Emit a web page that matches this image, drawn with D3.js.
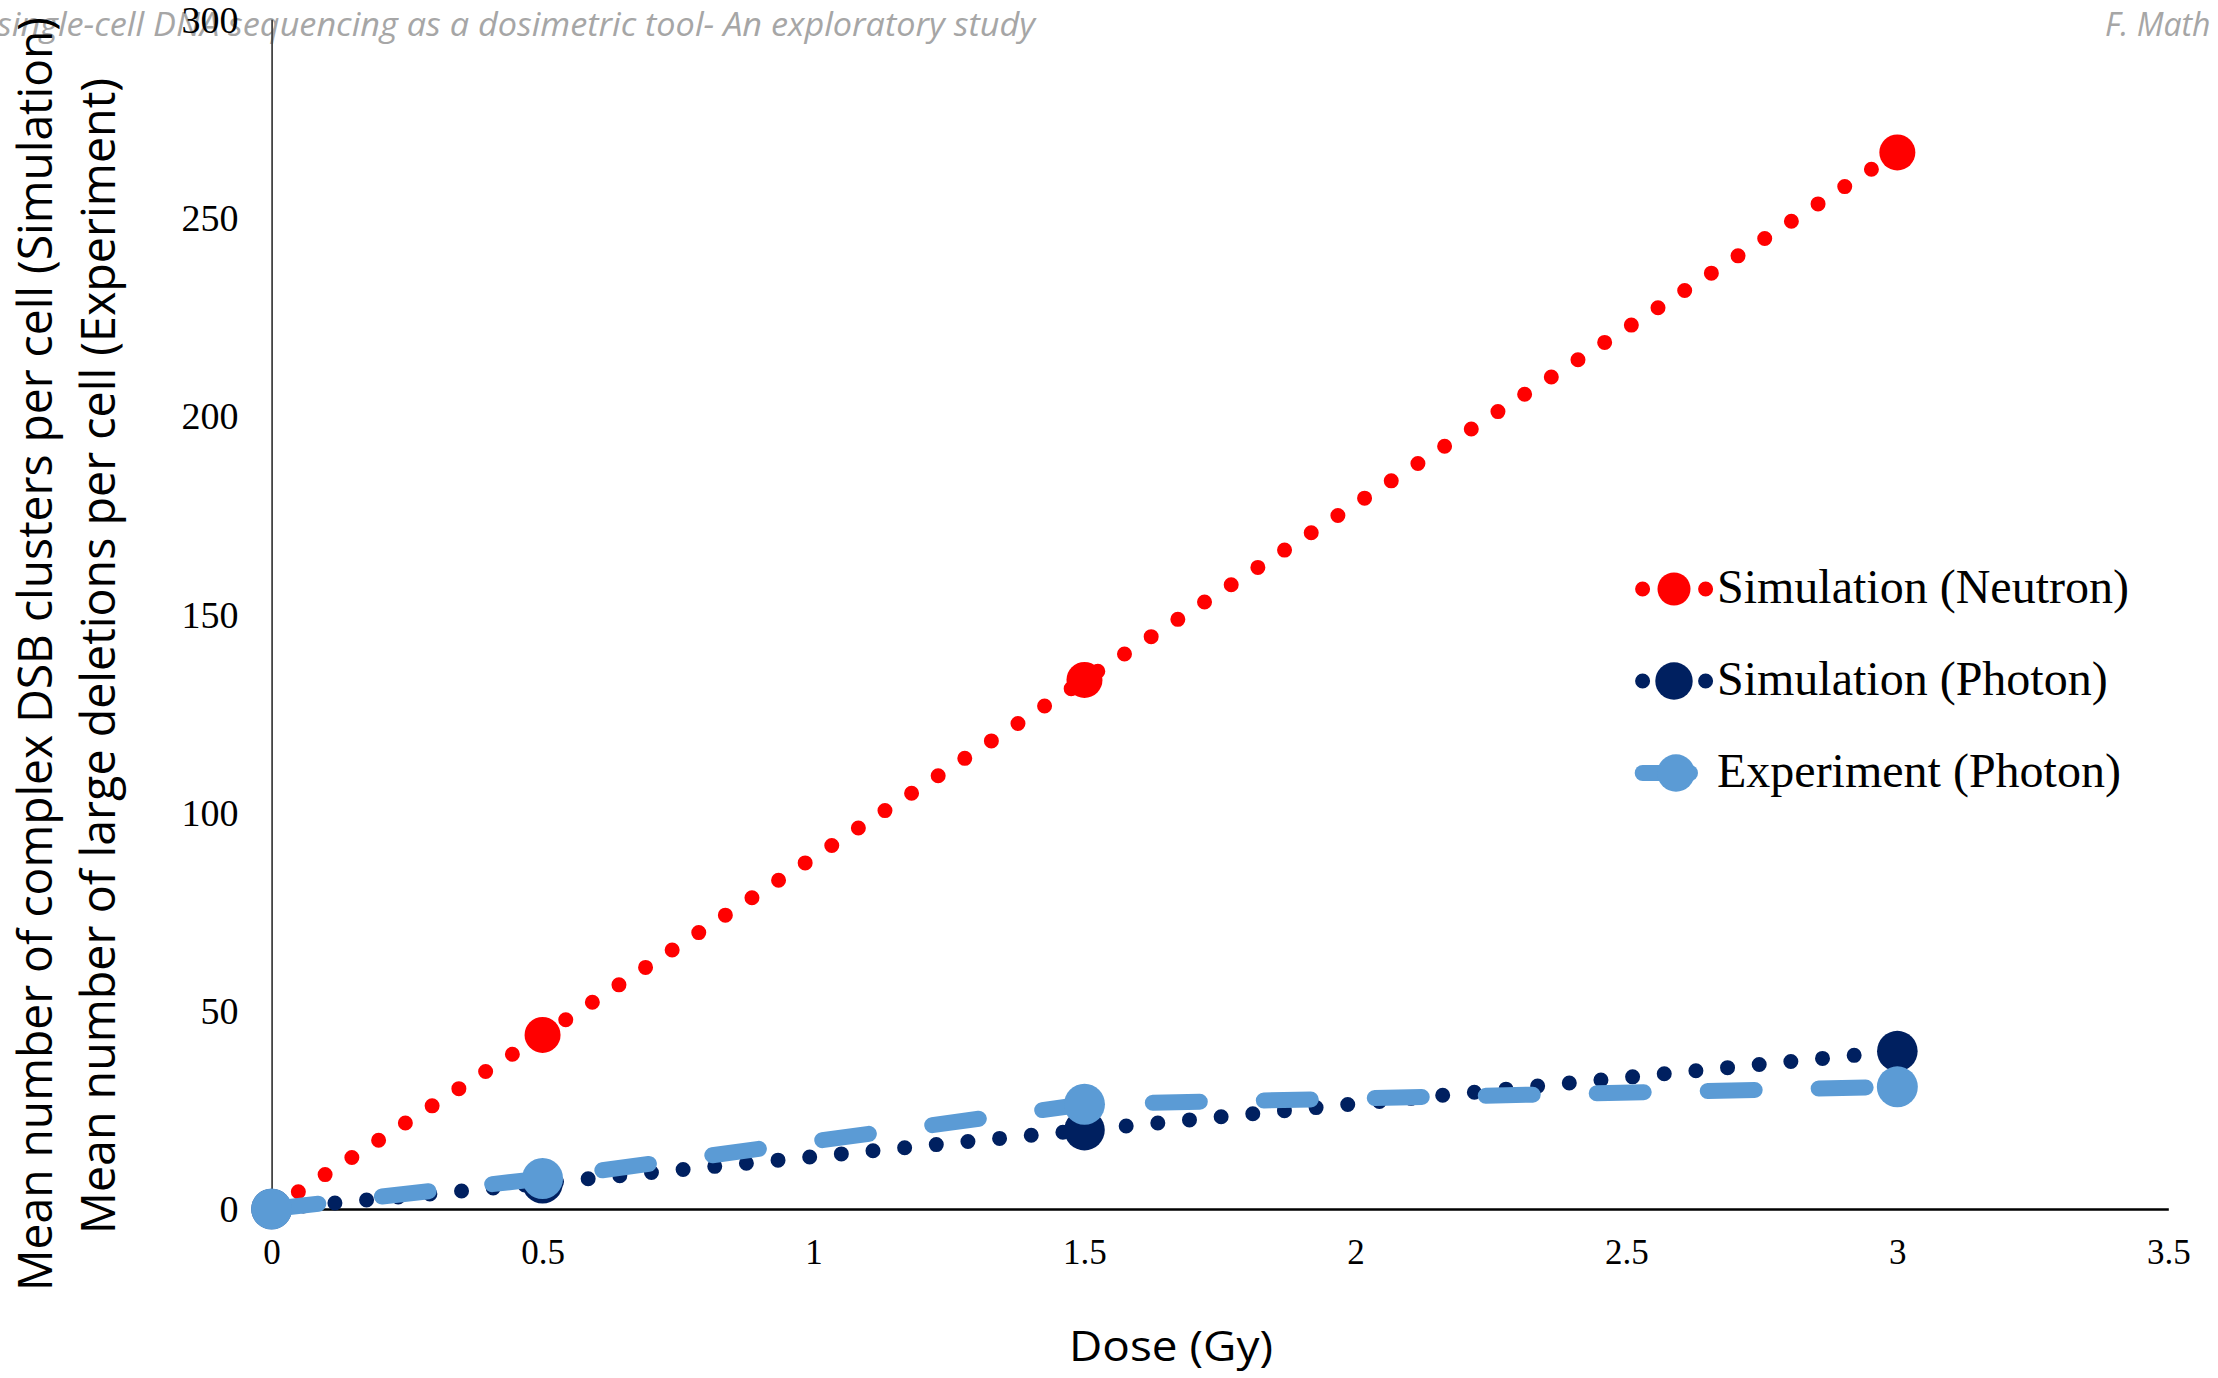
<!DOCTYPE html>
<html>
<head>
<meta charset="utf-8">
<script src="https://cdn.jsdelivr.net/npm/d3@7"></script>
<style>
  html, body { margin: 0; padding: 0; background: #fff; overflow: hidden; }
  svg { display: block; }
</style>
</head>
<body>
<svg id="chart" width="2218" height="1378"></svg>
<script>
// ---- data ----
const doses = [0, 0.5, 1.5, 3];
const neutronSim = [0, 43.9, 133.4, 266.4];
const photonSim = [0, 6.5, 19.9, 39.8];
const photonExp = [0, 7.7, 26.4, 30.8];
const seriesNames = ["Simulation (Neutron)", "Simulation (Photon)", "Experiment (Photon)"];
const xTicks = [0, 0.5, 1, 1.5, 2, 2.5, 3, 3.5];
const yTicks = [0, 50, 100, 150, 200, 250, 300];
const xTitle = "Dose (Gy)";
const yTitle1 = "Mean number of complex DSB clusters per cell (Simulation)";
const yTitle2 = "Mean number of large deletions per cell (Experiment)";
const headerLeft = "single-cell DNA sequencing as a dosimetric tool- An exploratory study";
const headerRight = "F. Math";

// ---- layout ----
const svg = d3.select("#chart");
const x = d3.scaleLinear().domain([0, 3.5]).range([271.6, 2168.3]);
const y = d3.scaleLinear().domain([0, 300]).range([1209, 19.2]);

const serif = "'Liberation Serif', 'Times New Roman', serif";
const sans = "'Open Sans', 'Noto Sans', sans-serif";

// header
svg.append("text").attr("x", -3).attr("y", 36)
  .attr("textLength", 1038).attr("lengthAdjust", "spacingAndGlyphs")
  .style("font-family", sans).style("font-style", "italic").style("font-size", "32px")
  .style("fill", "#a6a6a6").text(headerLeft);
svg.append("text").attr("x", 2105).attr("y", 36)
  .style("font-family", sans).style("font-style", "italic").style("font-size", "32px")
  .style("fill", "#a6a6a6").text(headerRight);

// y axis
const yAxis = svg.append("g").attr("transform", `translate(${x(0)},0)`)
  .call(d3.axisLeft(y).tickValues(yTicks).tickSize(0).tickPadding(33).tickFormat(d3.format("d")));
yAxis.select(".domain").attr("stroke", "#444").attr("stroke-width", 1.8);
yAxis.selectAll("text").style("font-family", serif).style("font-size", "38px").style("fill", "#000")
  .attr("dy", "0.34em");

// x axis
const xAxis = svg.append("g").attr("transform", `translate(0,${y(0)})`)
  .call(d3.axisBottom(x).tickValues(xTicks).tickSize(0).tickPadding(30).tickFormat(d => String(d)));
xAxis.select(".domain").attr("stroke", "#000").attr("stroke-width", 2.6);
xAxis.selectAll("text").style("font-family", serif).style("font-size", "35px").style("fill", "#000");

// axis titles
svg.append("text").attr("transform", "translate(1171,1361)")
  .attr("text-anchor", "middle")
  .attr("textLength", 204).attr("lengthAdjust", "spacingAndGlyphs")
  .style("font-family", sans).style("font-size", "42px").style("fill", "#000").text(xTitle);

svg.append("text").attr("transform", "translate(52,1291) rotate(-90)")
  .attr("textLength", 1274).attr("lengthAdjust", "spacingAndGlyphs")
  .style("font-family", sans).style("font-size", "48px").style("fill", "#000").text(yTitle1);
svg.append("text").attr("transform", "translate(115,1234) rotate(-90)")
  .attr("textLength", 1156).attr("lengthAdjust", "spacingAndGlyphs")
  .style("font-family", sans).style("font-size", "48px").style("fill", "#000").text(yTitle2);

// series
const series = [
  { name: seriesNames[0], values: neutronSim, color: "#ff0000", width: 15, dash: "0 31.8", r: 18, lr: 16.5 },
  { name: seriesNames[1], values: photonSim, color: "#002060", width: 15, dash: "0 31.8", r: 20.3, lr: 18.7 },
  { name: seriesNames[2], values: photonExp, color: "#5b9bd5", width: 16, dash: "47 64", r: 20.5, lr: 18.7 }
];

const line = d3.line().x(d => x(d[0])).y(d => y(d[1]));

series.forEach(s => {
  const pts = doses.map((d, i) => [d, s.values[i]]);
  svg.append("path").datum(pts).attr("d", line)
    .attr("fill", "none").attr("stroke", s.color).attr("stroke-width", s.width)
    .attr("stroke-linecap", "round").attr("stroke-linejoin", "round")
    .attr("stroke-dasharray", s.dash);
  svg.append("g").selectAll("circle").data(pts).join("circle")
    .attr("cx", d => x(d[0])).attr("cy", d => y(d[1])).attr("r", s.r)
    .attr("fill", s.color);
});

// legend
const legendRows = [589, 681, 773];
series.forEach((s, i) => {
  const cy = legendRows[i];
  const g = svg.append("g");
  if (i < 2) {
    g.append("line").attr("x1", 1642.6).attr("x2", 1706.5).attr("y1", cy).attr("y2", cy)
      .attr("stroke", s.color).attr("stroke-width", s.width).attr("stroke-linecap", "round")
      .attr("stroke-dasharray", "0 31.5");
    g.append("circle").attr("cx", 1674).attr("cy", cy).attr("r", s.lr).attr("fill", s.color);
  } else {
    g.append("line").attr("x1", 1642.7).attr("x2", 1690).attr("y1", cy).attr("y2", cy)
      .attr("stroke", s.color).attr("stroke-width", s.width).attr("stroke-linecap", "round");
    g.append("circle").attr("cx", 1676).attr("cy", cy).attr("r", s.lr).attr("fill", s.color);
  }
  g.append("text").attr("x", 1717).attr("y", cy + 14)
    .style("font-family", serif).style("font-size", "48px").style("fill", "#000").text(s.name);
});
</script>
</body>
</html>
